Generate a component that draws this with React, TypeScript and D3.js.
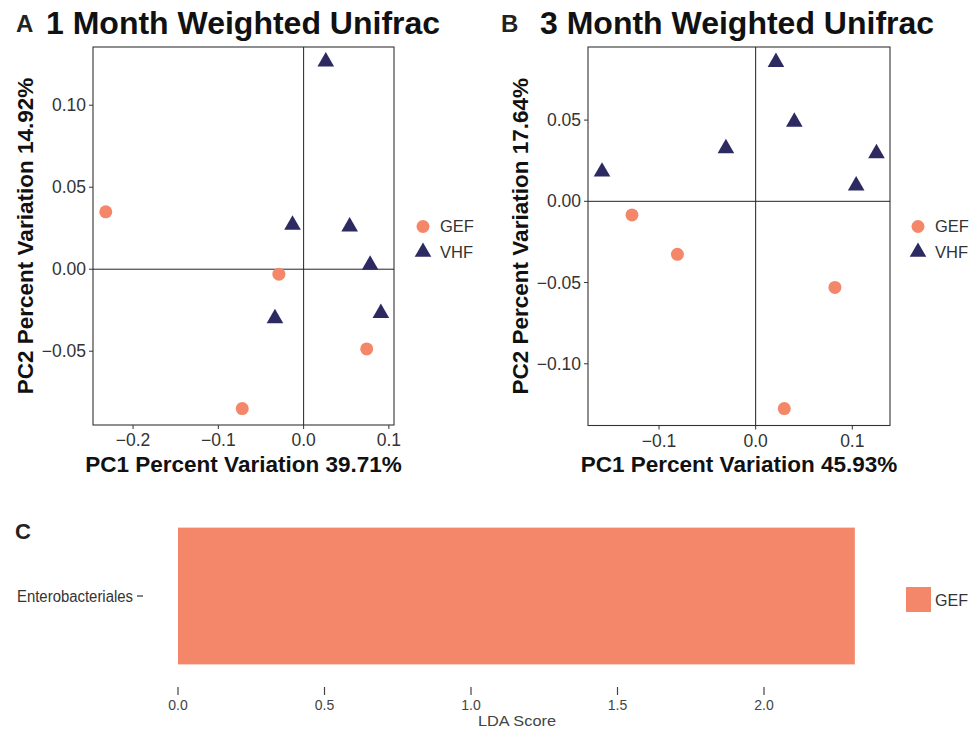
import React from "react";
import * as d3 from "d3";

// ---------- DATA ----------
const groups = ["GEF", "VHF"];
const groupColors = ["#F4876A", "#2D2A62"];

// Panel A: 1 month weighted Unifrac (PC1, PC2)
const m1GEF_pc1 = [-0.232, -0.029, 0.074, -0.072];
const m1GEF_pc2 = [0.035, -0.003, -0.0486, -0.085];
const m1VHF_pc1 = [0.026, -0.013, 0.054, 0.078, 0.0906, -0.0336];
const m1VHF_pc2 = [0.1266, 0.027, 0.026, 0.0026, -0.0268, -0.030];

// Panel B: 3 month weighted Unifrac
const m3GEF_pc1 = [-0.128, -0.081, 0.082, 0.0296];
const m3GEF_pc2 = [-0.0084, -0.0326, -0.053, -0.1276];
const m3VHF_pc1 = [-0.159, -0.0308, 0.021, 0.040, 0.104, 0.125];
const m3VHF_pc2 = [0.0182, 0.0326, 0.0857, 0.0489, 0.0096, 0.0295];

const xTicksA = [-0.2, -0.1, 0.0, 0.1];
const yTicksA = [-0.05, 0.0, 0.05, 0.1];
const xTicksB = [-0.1, 0.0, 0.1];
const yTicksB = [-0.1, -0.05, 0.0, 0.05];

// Panel C: LDA
const ldaTaxa = ["Enterobacteriales"];
const ldaScores = [2.31];
const ldaGroup = ["GEF"];
const ldaTicks = [0.0, 0.5, 1.0, 1.5, 2.0];

const FONT = "'Liberation Sans', Arial, Helvetica, sans-serif";

function fmt(v: number, digits: number) {
  const s = Math.abs(v).toFixed(digits);
  return v < 0 ? "\u2212" + s : s;
}

type ScatterProps = {
  letter: string;
  letterX: number;
  title: string;
  titleX: number;
  box: { l: number; r: number; t: number; b: number };
  xDom: [number, number];
  yDom: [number, number];
  xTicks: number[];
  yTicks: number[];
  xLabel: string;
  yLabel: string;
  yLabelX: number;
  gef: [number[], number[]];
  vhf: [number[], number[]];
  legendX: number;
};

function Triangle({ cx, cy, color }: { cx: number; cy: number; color: string }) {
  const sym = d3.symbol().type(d3.symbolTriangle).size(120)();
  return <path d={sym || ""} transform={`translate(${cx},${cy})`} fill={color} />;
}

function Scatter(p: ScatterProps) {
  const x = d3.scaleLinear().domain(p.xDom).range([p.box.l, p.box.r]);
  const y = d3.scaleLinear().domain(p.yDom).range([p.box.b, p.box.t]);
  return (
    <g>
      <text x={p.letterX} y={32} fontFamily={FONT} fontWeight="bold" fontSize={24} fill="#222">
        {p.letter}
      </text>
      <text x={p.titleX} y={34} fontFamily={FONT} fontWeight="bold" fontSize={32} fill="#111">
        {p.title}
      </text>
      <rect
        x={p.box.l}
        y={p.box.t}
        width={p.box.r - p.box.l}
        height={p.box.b - p.box.t}
        fill="white"
        stroke="#333"
        strokeWidth={1.1}
      />
      {/* zero lines */}
      <line x1={x(0)} x2={x(0)} y1={p.box.t} y2={p.box.b} stroke="#222" strokeWidth={1} />
      <line x1={p.box.l} x2={p.box.r} y1={y(0)} y2={y(0)} stroke="#222" strokeWidth={1} />
      {/* ticks */}
      {p.xTicks.map((t) => (
        <g key={"xt" + t}>
          <line x1={x(t)} x2={x(t)} y1={p.box.b} y2={p.box.b + 4} stroke="#333" strokeWidth={1} />
          <text x={x(t)} y={p.box.b + 21} textAnchor="middle" fontFamily={FONT} fontSize={17.5} fill="#333">
            {fmt(t, 1)}
          </text>
        </g>
      ))}
      {p.yTicks.map((t) => (
        <g key={"yt" + t}>
          <line x1={p.box.l - 4} x2={p.box.l} y1={y(t)} y2={y(t)} stroke="#333" strokeWidth={1} />
          <text
            x={p.box.l - 7}
            y={y(t)}
            dy="0.35em"
            textAnchor="end"
            fontFamily={FONT}
            fontSize={17.5}
            fill="#333"
          >
            {fmt(t, 2)}
          </text>
        </g>
      ))}
      {/* axis labels */}
      <text
        x={(p.box.l + p.box.r) / 2}
        y={472}
        textAnchor="middle"
        fontFamily={FONT}
        fontWeight="bold"
        fontSize={22.5}
        fill="#111"
      >
        {p.xLabel}
      </text>
      <text
        transform={`translate(${p.yLabelX},${(p.box.t + p.box.b) / 2}) rotate(-90)`}
        textAnchor="middle"
        fontFamily={FONT}
        fontWeight="bold"
        fontSize={22.5}
        fill="#111"
      >
        {p.yLabel}
      </text>
      {/* points */}
      {p.gef[0].map((v, i) => (
        <circle key={"g" + i} cx={x(v)} cy={y(p.gef[1][i])} r={6.5} fill={groupColors[0]} />
      ))}
      {p.vhf[0].map((v, i) => (
        <Triangle key={"v" + i} cx={x(v)} cy={y(p.vhf[1][i])} color={groupColors[1]} />
      ))}
      {/* legend */}
      <circle cx={p.legendX} cy={226.5} r={6.5} fill={groupColors[0]} />
      <text x={p.legendX + 17} y={226.5} dy="0.35em" fontFamily={FONT} fontSize={16.5} fill="#333">
        {groups[0]}
      </text>
      <Triangle cx={p.legendX} cy={252} color={groupColors[1]} />
      <text x={p.legendX + 17} y={252} dy="0.35em" fontFamily={FONT} fontSize={16.5} fill="#333">
        {groups[1]}
      </text>
    </g>
  );
}

function LdaPanel() {
  const x = d3.scaleLinear().domain([0, 2.0]).range([178, 764]);
  const y = d3.scaleBand().domain(ldaTaxa).range([520, 672]).paddingInner(0.1).paddingOuter(0.05);
  return (
    <g>
      <text x={15} y={539} fontFamily={FONT} fontWeight="bold" fontSize={22} fill="#222">
        C
      </text>
      {ldaTaxa.map((t, i) => (
        <g key={t}>
          <rect
            x={x(0)}
            y={y(t)!}
            width={x(ldaScores[i]) - x(0)}
            height={y.bandwidth()}
            fill={groupColors[groups.indexOf(ldaGroup[i])]}
          />
          <text
            x={133}
            y={y(t)! + y.bandwidth() / 2}
            dy="0.35em"
            textAnchor="end"
            fontFamily={FONT}
            fontSize={16}
            textLength={116}
            lengthAdjust="spacingAndGlyphs"
            fill="#333"
          >
            {t}
          </text>
          <line
            x1={137}
            x2={143}
            y1={y(t)! + y.bandwidth() / 2}
            y2={y(t)! + y.bandwidth() / 2}
            stroke="#333"
            strokeWidth={1.2}
          />
        </g>
      ))}
      {ldaTicks.map((t) => (
        <g key={"lt" + t}>
          <line x1={x(t)} x2={x(t)} y1={687} y2={695} stroke="#444" strokeWidth={1.2} />
          <text x={x(t)} y={710} textAnchor="middle" fontFamily={FONT} fontSize={14} fill="#444">
            {t.toFixed(1)}
          </text>
        </g>
      ))}
      <text
        x={517}
        y={726}
        textAnchor="middle"
        fontFamily={FONT}
        fontSize={15.5}
        textLength={78}
        lengthAdjust="spacingAndGlyphs"
        fill="#444"
      >
        LDA Score
      </text>
      {/* legend */}
      <rect x={906} y={587} width={25} height={25} fill={groupColors[0]} />
      <text x={935} y={600} dy="0.35em" fontFamily={FONT} fontSize={17} textLength={33} lengthAdjust="spacingAndGlyphs" fill="#333">
        {ldaGroup[0]}
      </text>
    </g>
  );
}

export default function App() {
  return (
    <svg
      width={973}
      height={731}
      style={{ position: "absolute", left: 0, top: 0, background: "white" }}
    >
      <rect width={973} height={731} fill="white" />
      <Scatter
        letter="A"
        letterX={16}
        title="1 Month Weighted Unifrac"
        titleX={46}
        box={{ l: 93, r: 394, t: 47, b: 425 }}
        xDom={[-0.247, 0.106]}
        yDom={[-0.095, 0.1355]}
        xTicks={xTicksA}
        yTicks={yTicksA}
        xLabel="PC1 Percent Variation 39.71%"
        yLabel="PC2 Percent Variation 14.92%"
        yLabelX={33}
        gef={[m1GEF_pc1, m1GEF_pc2]}
        vhf={[m1VHF_pc1, m1VHF_pc2]}
        legendX={423}
      />
      <Scatter
        letter="B"
        letterX={501}
        title="3 Month Weighted Unifrac"
        titleX={540}
        box={{ l: 588, r: 890, t: 47, b: 425.5 }}
        xDom={[-0.1735, 0.139]}
        yDom={[-0.138, 0.095]}
        xTicks={xTicksB}
        yTicks={yTicksB}
        xLabel="PC1 Percent Variation 45.93%"
        yLabel="PC2 Percent Variation 17.64%"
        yLabelX={528}
        gef={[m3GEF_pc1, m3GEF_pc2]}
        vhf={[m3VHF_pc1, m3VHF_pc2]}
        legendX={918}
      />
      <LdaPanel />
    </svg>
  );
}
